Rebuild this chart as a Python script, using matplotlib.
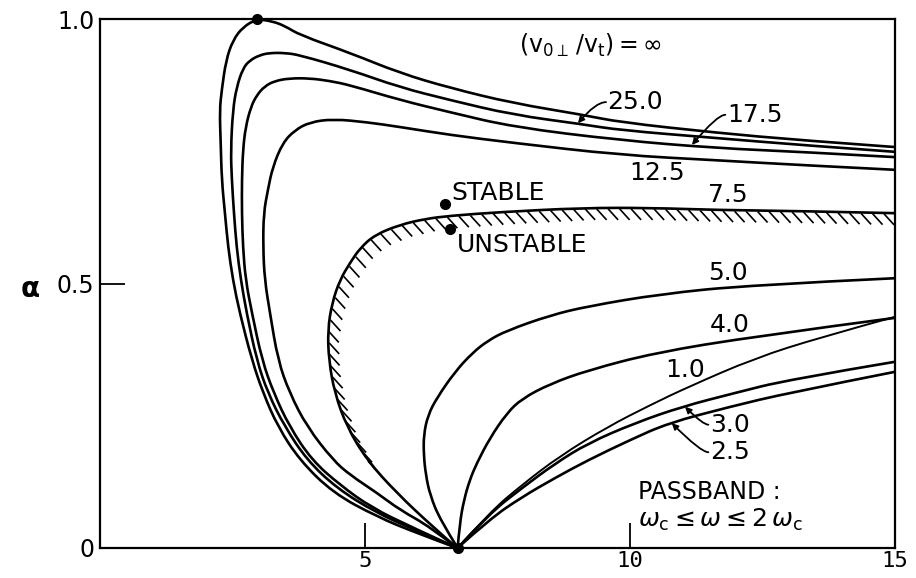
import numpy as np
import matplotlib
matplotlib.use("Agg")
import matplotlib.pyplot as plt
from matplotlib.collections import LineCollection
from matplotlib.patches import PathPatch
from matplotlib.path import Path
from matplotlib.transforms import IdentityTransform

plt.rcParams["font.family"] = "DejaVu Sans"
plt.rcParams["mathtext.fontset"] = "dejavusans"

# growth-rate boundary curves as (x, alpha) pairs
x_inf = [6.74, 5.98, 5.23, 4.40, 3.77, 3.36, 3.08, 2.87, 2.64, 2.51,
         2.42, 2.36, 2.30, 2.28, 2.26, 2.30, 2.38, 2.51, 2.70, 2.96,
         3.25, 3.49, 3.77, 4.72, 5.66, 6.60, 7.79, 9.11, 9.81, 11.64,
         13.21, 15.0]
a_inf = [0.0, 0.028, 0.059, 0.104, 0.166, 0.229, 0.293, 0.355, 0.444, 0.507,
         0.569, 0.633, 0.696, 0.766, 0.828, 0.866, 0.922, 0.960, 0.985, 1.0,
         0.996, 0.987, 0.970, 0.936, 0.898, 0.870, 0.841, 0.819, 0.805, 0.785,
         0.771, 0.758]

x_250 = [6.74, 5.94, 5.19, 4.47, 3.91, 3.49, 3.17, 2.96, 2.77, 2.66,
         2.58, 2.53, 2.49, 2.47, 2.51, 2.58, 2.70, 2.83, 3.02, 3.21,
         3.49, 3.77, 4.72, 5.66, 6.60, 7.79, 9.11, 9.81, 11.64, 13.21, 15.0]
a_250 = [0.0, 0.034, 0.068, 0.113, 0.166, 0.229, 0.293, 0.355, 0.444, 0.507,
         0.569, 0.633, 0.696, 0.752, 0.828, 0.871, 0.907, 0.922, 0.932, 0.936,
         0.936, 0.932, 0.904, 0.871, 0.847, 0.819, 0.801, 0.790, 0.775, 0.762, 0.749]

x_175 = [6.74, 5.91, 5.13, 4.53, 4.00, 3.58, 3.28, 3.06, 2.87, 2.75,
         2.70, 2.68, 2.68, 2.70, 2.75, 2.85, 2.96, 3.11, 3.30, 3.58,
         3.96, 4.34, 4.72, 5.66, 6.60, 7.79, 9.81, 11.64, 13.21, 15.0]
a_175 = [0.0, 0.038, 0.076, 0.119, 0.166, 0.229, 0.293, 0.355, 0.444, 0.507,
         0.569, 0.633, 0.696, 0.752, 0.796, 0.834, 0.856, 0.873, 0.883, 0.888,
         0.888, 0.883, 0.875, 0.847, 0.824, 0.796, 0.771, 0.756, 0.749, 0.739]

x_125 = [6.74, 6.23, 5.66, 5.23, 4.72, 4.40, 3.91, 3.58, 3.36, 3.21,
         3.11, 3.08, 3.09, 3.17, 3.26, 3.45, 3.68, 3.96, 4.40, 5.04,
         5.66, 6.60, 7.79, 9.81, 11.64, 13.21, 15.0]
a_125 = [0.0, 0.040, 0.072, 0.104, 0.138, 0.166, 0.229, 0.293, 0.355, 0.444,
         0.507, 0.569, 0.633, 0.677, 0.720, 0.766, 0.790, 0.805, 0.811, 0.805,
         0.796, 0.781, 0.766, 0.743, 0.733, 0.724, 0.715]

# 7.5 is the stability boundary (hatched on the unstable side)
x_75 = [6.74, 6.28, 5.60, 5.04, 4.66, 4.43, 4.32, 4.30, 4.38, 4.53,
        4.72, 4.91, 5.19, 5.66, 6.13, 6.60, 7.55, 9.11, 10.38, 11.64,
        13.21, 15.0]
a_75 = [0.0, 0.040, 0.104, 0.166, 0.229, 0.293, 0.355, 0.412, 0.463, 0.507,
        0.539, 0.567, 0.592, 0.611, 0.622, 0.628, 0.635, 0.643, 0.643, 0.639,
        0.637, 0.633]

x_50 = [6.75, 6.42, 6.23, 6.15, 6.11, 6.11, 6.19, 6.36, 6.70, 7.02,
        7.32, 7.68, 8.50, 9.21, 10.57, 12.26, 15.0]
a_50 = [0.0, 0.053, 0.100, 0.138, 0.176, 0.214, 0.251, 0.284, 0.333, 0.368,
        0.392, 0.411, 0.440, 0.457, 0.480, 0.497, 0.510]

x_40 = [6.75, 6.79, 6.87, 6.98, 7.11, 7.36, 7.68, 7.96, 8.49, 9.21, 10.47, 12.36, 15.0]
a_40 = [0.0, 0.047, 0.091, 0.129, 0.160, 0.208, 0.255, 0.282, 0.310, 0.336, 0.369, 0.400, 0.435]

x_10 = [6.75, 7.36, 7.96, 8.68, 9.58, 10.38, 11.09, 12.36, 13.62, 15.0]
a_10 = [0.0, 0.068, 0.119, 0.174, 0.229, 0.270, 0.304, 0.359, 0.399, 0.437]

x_30 = [6.75, 7.36, 7.96, 8.58, 9.21, 10.09, 10.98, 11.98, 12.98, 15.0]
a_30 = [0.0, 0.066, 0.113, 0.159, 0.198, 0.236, 0.267, 0.293, 0.318, 0.352]

x_25 = [6.75, 7.36, 7.96, 8.58, 9.21, 10.0, 10.72, 11.89, 12.98, 15.0]
a_25 = [0.0, 0.055, 0.096, 0.132, 0.166, 0.204, 0.236, 0.267, 0.293, 0.333]

# marked points: peak of the infinite curve, cusp, stable/unstable markers
dot_x = [2.96, 6.75, 6.51, 6.60]
dot_a = [1.0, 0.0, 0.650, 0.603]

x_ticks = [5, 10, 15]
x_ticklabels = ["5", "10", "15"]
y_ticks = [0, 0.5, 1.0]
y_ticklabels = ["0", "0.5", "1.0"]


def smooth_curve(ax, xs, ys, lw):
    # read points become control points of chained quadratic beziers
    p = np.column_stack([xs, ys])
    verts = [p[0]]
    codes = [Path.MOVETO]
    for i in range(1, len(p) - 1):
        end = p[i + 1] if i == len(p) - 2 else (p[i] + p[i + 1]) / 2
        verts += [p[i], end]
        codes += [Path.CURVE3, Path.CURVE3]
    if len(p) == 2:
        verts.append(p[1])
        codes.append(Path.LINETO)
    patch = PathPatch(Path(verts, codes), fill=False, edgecolor="black",
                      lw=lw, capstyle="round", joinstyle="round")
    ax.add_patch(patch)


fig = plt.figure(figsize=(9.16, 5.78), dpi=100)
ax = fig.add_axes([0.109, 0.052, 0.868, 0.915])
ax.set_xlim(0, 15)
ax.set_ylim(0, 1)

curves = [(x_inf, a_inf), (x_250, a_250), (x_175, a_175), (x_125, a_125),
          (x_75, a_75), (x_50, a_50), (x_40, a_40), (x_30, a_30), (x_25, a_25)]
for xs, ys in curves:
    smooth_curve(ax, xs, ys, 1.9)
smooth_curve(ax, x_10, a_10, 1.4)

ax.plot(dot_x, dot_a, "o", color="black", ms=7, clip_on=False, zorder=5)

# hatching on the unstable side of the 7.5 boundary, fixed drafting direction
pts = ax.transData.transform(np.column_stack([x_75, a_75]))
seg_len = np.hypot(np.diff(pts[:, 0]), np.diff(pts[:, 1]))
s = np.concatenate([[0], np.cumsum(seg_len)])
s_h = np.arange(s[3], s[-1] - 4, 11.5)
hx = np.interp(s_h, s, pts[:, 0])
hy = np.interp(s_h, s, pts[:, 1])
segs = [[(px + 1, py - 1), (px + 11, py - 12)] for px, py in zip(hx, hy)]
hatch = LineCollection(segs, colors="black", linewidths=1.2,
                       transform=IdentityTransform())
hatch.set_clip_box(ax.bbox)
ax.add_collection(hatch, autolim=False)

# curve labels
fs = 18
ax.text(9.25, 0.951, r"$(\mathrm{v}_{0\perp}\,/\mathrm{v}_{\mathrm{t}}) = \infty$",
        fontsize=17, ha="center", va="center")
ax.text(9.57, 0.843, "25.0", fontsize=fs, ha="left", va="center")
ax.text(11.83, 0.819, "17.5", fontsize=fs, ha="left", va="center")
ax.text(10.51, 0.709, "12.5", fontsize=fs, ha="center", va="center")
ax.text(11.85, 0.667, "7.5", fontsize=fs, ha="center", va="center")
ax.text(11.85, 0.520, "5.0", fontsize=fs, ha="center", va="center")
ax.text(11.88, 0.422, "4.0", fontsize=fs, ha="center", va="center")
ax.text(11.04, 0.336, "1.0", fontsize=fs, ha="center", va="center")
ax.text(11.51, 0.233, "3.0", fontsize=fs, ha="left", va="center")
ax.text(11.51, 0.181, "2.5", fontsize=fs, ha="left", va="center")
ax.text(6.64, 0.671, "STABLE", fontsize=fs, ha="left", va="center")
ax.text(6.74, 0.573, "UNSTABLE", fontsize=fs, ha="left", va="center")
ax.text(10.15, 0.106, "PASSBAND :", fontsize=17, ha="left", va="center")
ax.text(10.15, 0.053, r"$\omega_{\mathrm{c}} \leq \omega \leq 2\,\omega_{\mathrm{c}}$",
        fontsize=18, ha="left", va="center")

arrow = dict(arrowstyle="-|>", lw=1.3, color="black", mutation_scale=9,
             shrinkA=0, shrinkB=0)
ax.annotate("", xy=(9.02, 0.803), xytext=(9.55, 0.843),
            arrowprops=dict(arrow, connectionstyle="angle3,angleA=0,angleB=50"))
ax.annotate("", xy=(11.17, 0.762), xytext=(11.80, 0.819),
            arrowprops=dict(arrow, connectionstyle="angle3,angleA=0,angleB=50"))
ax.annotate("", xy=(11.04, 0.267), xytext=(11.48, 0.233),
            arrowprops=dict(arrow, connectionstyle="angle3,angleA=0,angleB=-45"))
ax.annotate("", xy=(10.79, 0.236), xytext=(11.48, 0.181),
            arrowprops=dict(arrow, connectionstyle="angle3,angleA=0,angleB=-45"))

# axes styling
for sp in ax.spines.values():
    sp.set_linewidth(1.6)
ax.set_xticks(x_ticks)
ax.set_xticklabels(x_ticklabels, family="DejaVu Sans Mono", fontsize=16)
ax.set_yticks(y_ticks)
ax.set_yticklabels(y_ticklabels, fontsize=17)
ax.tick_params(direction="in", length=18, width=1.3, color="black")
ax.tick_params(axis="x", pad=2)
ax.tick_params(axis="y", pad=4)
ax.text(-0.088, 0.49, "α", transform=ax.get_yaxis_transform(), fontsize=20,
        fontweight="bold", ha="center", va="center")

fig.savefig("out.png", dpi=100)
